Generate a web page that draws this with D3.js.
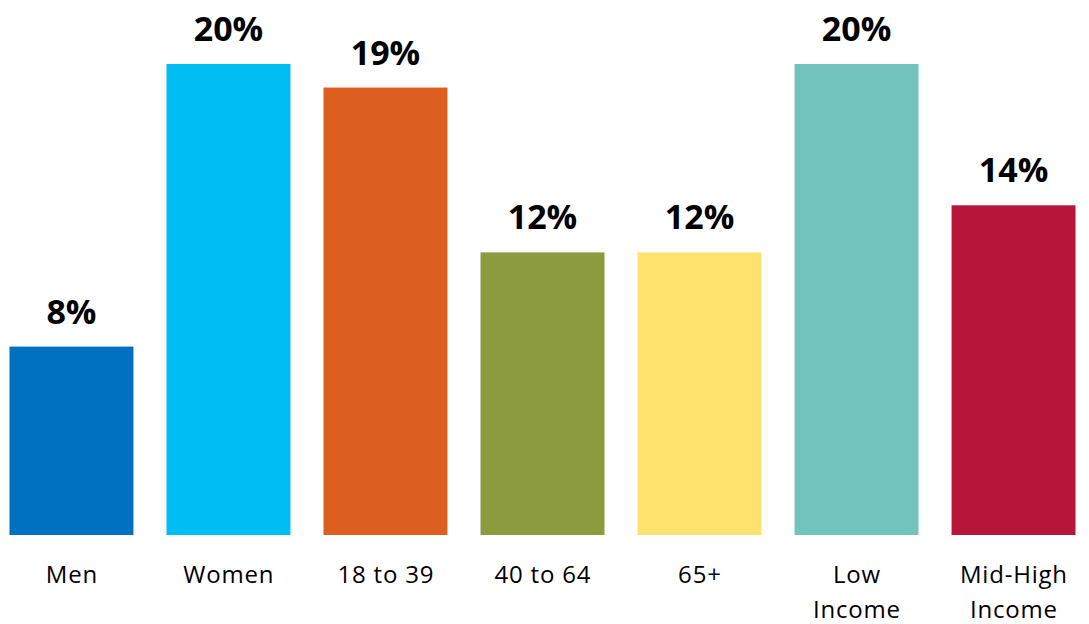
<!DOCTYPE html>
<html><head><meta charset="utf-8">
<script src="https://cdn.jsdelivr.net/npm/d3@7"></script>
<style>body{margin:0;background:#fff}</style>
</head><body>
<svg id="c" width="1089" height="624"></svg>
<script>
const categories = ["Men", "Women", "18 to 39", "40 to 64", "65+", "Low\nIncome", "Mid-High\nIncome"];
const values = [8, 20, 19, 12, 12, 20, 14];
const colors = ["#0070C0", "#00BEF2", "#DD5F20", "#8B9B3E", "#FFE26E", "#72C3BC", "#B8153A"];

const svg = d3.select("#c");
const x = d3.scaleBand().domain(categories).range([-7, 1092]).paddingInner(0.2105).paddingOuter(0.105);
const y = d3.scaleLinear().domain([0, 20]).range([535, 64]);

svg.selectAll("rect.bar").data(values).join("rect")
  .attr("class", "bar")
  .attr("x", (d, i) => x(categories[i]))
  .attr("width", x.bandwidth())
  .attr("y", d => y(d))
  .attr("height", d => y(0) - y(d))
  .attr("fill", (d, i) => colors[i]);

svg.selectAll("text.val").data(values).join("text")
  .attr("class", "val")
  .attr("x", (d, i) => x(categories[i]) + x.bandwidth() / 2)
  .attr("y", d => y(d) - 23)
  .attr("text-anchor", "middle")
  .attr("font-family", "Open Sans, sans-serif")
  .attr("font-weight", "bold")
  .attr("font-size", 34)
  .attr("fill", "#000")
  .text(d => d + "%");

const lab = svg.selectAll("text.cat").data(categories).join("text")
  .attr("class", "cat")
  .attr("x", d => x(d) + x.bandwidth() / 2 + 0.4)
  .attr("y", 583)
  .attr("text-anchor", "middle")
  .attr("font-family", "Open Sans, sans-serif")
  .attr("font-size", 24)
  .attr("letter-spacing", 0.8)
  .attr("fill", "#000");
lab.each(function(d) {
  const lines = d.split("\n");
  d3.select(this).selectAll("tspan").data(lines).join("tspan")
    .attr("x", x(d) + x.bandwidth() / 2 + 0.4)
    .attr("dy", (l, i) => i === 0 ? 0 : 35)
    .text(l => l);
});
</script>
</body></html>
